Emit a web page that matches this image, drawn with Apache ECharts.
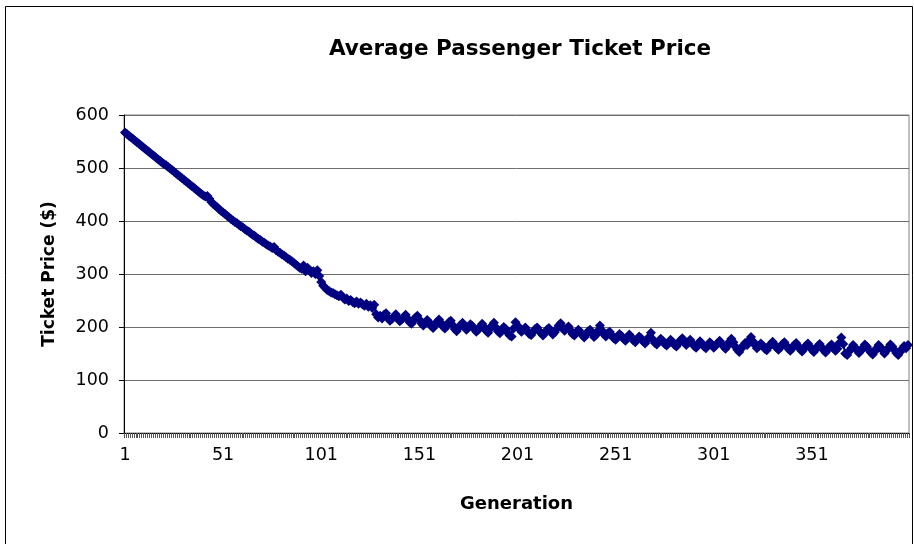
<!DOCTYPE html>
<html>
<head>
<meta charset="utf-8">
<title>Average Passenger Ticket Price</title>
<script src="https://cdn.jsdelivr.net/npm/echarts@6/dist/echarts.min.js"></script>
<style>
  html, body { margin: 0; padding: 0; background: #ffffff; }
  #chart { width: 914px; height: 544px; }
</style>
</head>
<body>
<div id="chart"></div>
<script>
// Average ticket price per generation (USD), generations 1-400, in blocks of 10
const pricesGen001to100 = [
  567, 564, 561, 558, 555, 552, 549, 546, 543, 540,
  537, 534, 531, 528, 525, 522, 519, 516, 513, 510,
  507, 505, 502, 499, 496, 493, 490, 487, 484, 481,
  478, 475, 472, 469, 466, 463, 460, 457, 454, 451,
  448, 446, 447, 442, 436, 432, 429, 426, 422, 419,
  416, 413, 410, 407, 404, 401, 398, 396, 393, 390,
  388, 385, 382, 380, 377, 374, 372, 369, 366, 364,
  361, 359, 356, 354, 352, 349, 351, 345, 342, 340,
  337, 335, 332, 329, 327, 324, 321, 318, 315, 312,
  310, 316, 305, 312, 308, 302, 305, 300, 307, 296
];
const pricesGen101to200 = [
  285, 278, 274, 270, 268, 265, 264, 262, 260, 258,
  261, 256, 252, 254, 249, 251, 247, 245, 248, 244,
  246, 243, 240, 244, 238, 241, 236, 242, 224, 218,
  221, 216, 223, 226, 218, 212, 215, 220, 224, 217,
  211, 214, 219, 223, 216, 209, 206, 212, 218, 221,
  214, 207, 203, 208, 213, 209, 202, 198, 204, 210,
  214, 208, 201, 197, 203, 209, 212, 204, 196, 192,
  198, 204, 208, 201, 195, 199, 205, 202, 196, 191,
  195, 201, 206, 200, 193, 189, 196, 203, 208, 199,
  192, 188, 194, 200, 196, 189, 184, 182, 197, 209
];
const pricesGen201to300 = [
  203, 196, 191, 195, 199, 193, 187, 185, 191, 196,
  199, 193, 188, 184, 189, 195, 198, 191, 186, 190,
  196, 203, 207, 199, 193, 197, 201, 194, 187, 184,
  189, 195, 191, 185, 180, 186, 192, 195, 188, 181,
  185, 193, 203, 194, 187, 182, 188, 191, 185, 179,
  176, 182, 187, 183, 178, 174, 180, 186, 181, 175,
  171, 176, 182, 179, 173, 169, 175, 181, 189, 177,
  170, 167, 173, 178, 174, 168, 165, 170, 176, 172,
  166, 163, 169, 175, 179, 172, 166, 171, 176, 170,
  164, 161, 167, 173, 169, 163, 160, 166, 171, 167
];
const pricesGen301to400 = [
  161, 165, 170, 174, 169, 163, 159, 164, 172, 178,
  171, 163, 157, 153, 159, 165, 170, 166, 175, 181,
  173, 166, 160, 164, 169, 165, 159, 156, 162, 168,
  172, 167, 161, 157, 162, 168, 171, 165, 159, 155,
  160, 166, 170, 164, 158, 154, 159, 165, 169, 163,
  157, 153, 158, 164, 168, 162, 156, 152, 157, 163,
  167, 161, 155, 159, 170, 180, 168, 150, 147, 154,
  160, 166, 162, 156, 151, 155, 161, 167, 163, 157,
  152, 148, 154, 160, 166, 162, 156, 150, 155, 161,
  167, 163, 157, 151, 147, 153, 159, 164, 160, 166
];

const ticketPrices = [].concat(
  pricesGen001to100, pricesGen101to200, pricesGen201to300, pricesGen301to400
);

// Generation numbers used as category labels
const generations = ticketPrices.map((_, i) => String(i + 1));

const chartTitle = 'Average Passenger Ticket Price';
const xAxisTitle = 'Generation';
const yAxisTitle = 'Ticket Price ($)';

const chart = echarts.init(document.getElementById('chart'), null, { renderer: 'canvas' });

const labelFont = 'DejaVu Sans, Arial, sans-serif';
const navy = '#000080';

chart.setOption({
  animation: false,
  backgroundColor: '#ffffff',
  title: {
    text: chartTitle,
    left: 515,
    top: 33,
    textAlign: 'center',
    textStyle: {
      fontFamily: labelFont,
      fontWeight: 'bold',
      fontSize: 21.5,
      color: '#000000'
    }
  },
  grid: {
    left: 124,
    right: 5,
    top: 115,
    bottom: 111,
    show: true,
    borderColor: '#808080',
    borderWidth: 1,
    backgroundColor: '#ffffff'
  },
  xAxis: {
    type: 'category',
    data: generations,
    boundaryGap: true,
    name: xAxisTitle,
    nameLocation: 'middle',
    nameGap: 62,
    nameTextStyle: {
      fontFamily: labelFont,
      fontWeight: 'bold',
      fontSize: 18,
      color: '#000000'
    },
    axisLine: { show: true, lineStyle: { color: '#000000', width: 1 } },
    axisTick: {
      show: true,
      interval: 0,
      length: 5,
      lineStyle: { color: '#555555', width: 1 }
    },
    axisLabel: {
      interval: 49,
      margin: 13,
      fontFamily: labelFont,
      fontSize: 17.5,
      color: '#000000'
    },
    splitLine: { show: false }
  },
  yAxis: {
    type: 'value',
    min: 0,
    max: 600,
    interval: 100,
    name: yAxisTitle,
    nameLocation: 'middle',
    nameGap: 66,
    nameTextStyle: {
      fontFamily: labelFont,
      fontWeight: 'bold',
      fontSize: 17,
      color: '#000000'
    },
    axisLine: { show: true, lineStyle: { color: '#000000', width: 1 } },
    axisTick: { show: true, length: 5, lineStyle: { color: '#000000', width: 1 } },
    axisLabel: {
      margin: 15,
      fontFamily: labelFont,
      fontSize: 17.5,
      color: '#000000'
    },
    splitLine: { show: true, lineStyle: { color: '#6e6e6e', width: 1 } }
  },
  series: [
    {
      // connecting line
      type: 'line',
      name: yAxisTitle,
      data: ticketPrices,
      showSymbol: false,
      lineStyle: { color: navy, width: 2 }
    },
    {
      // a diamond marker on every generation
      type: 'scatter',
      name: yAxisTitle,
      data: ticketPrices,
      symbol: 'diamond',
      symbolSize: 10,
      large: false,
      itemStyle: { color: navy, borderWidth: 0, opacity: 1 },
      z: 3
    }
  ],
  graphic: [{
    type: 'rect',
    shape: { x: 5.5, y: 6.5, width: 907, height: 560 },
    style: { fill: null, stroke: '#000000', lineWidth: 1 },
    silent: true,
    z: 100
  }]
});
</script>
</body>
</html>
